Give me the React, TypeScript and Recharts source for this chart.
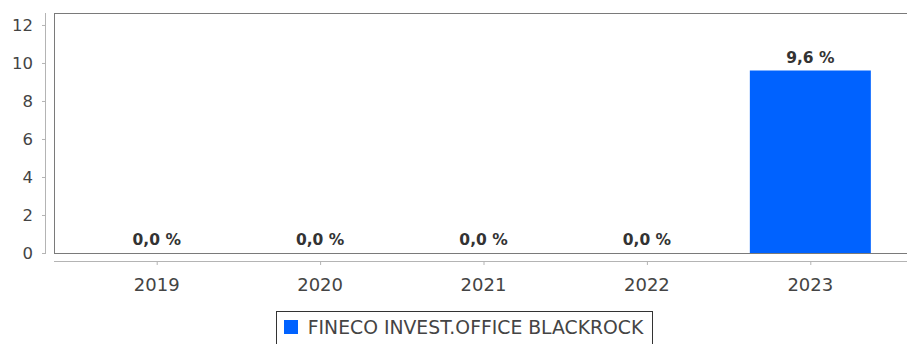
import React from 'react';
import { BarChart, Bar, XAxis, YAxis, LabelList, Legend, Rectangle, usePlotArea } from 'recharts';

const years = ['2019', '2020', '2021', '2022', '2023'];
const values = [0, 0, 0, 0, 9.6];
const yTicks = [0, 2, 4, 6, 8, 10, 12];
const seriesName = 'FINECO INVEST.OFFICE BLACKROCK';

const data = years.map((year, i) => ({ year, value: values[i] }));

const FONT = '"DejaVu Sans", sans-serif';
const BLUE = '#0062ff';

// plot box plus the two axis lines, which sit 8px away from the box
const AxisFrame = () => {
    const area = usePlotArea();
    if (!area) return null;
    const { x, y, width, height } = area;
    return (
        <g>
            <rect x={x + 0.5} y={y + 0.5} width={width} height={height} fill="none" stroke="#7a7a7a" />
            <line x1={x - 8.5} y1={y} x2={x - 8.5} y2={y + height + 1} stroke="#b4b4b4" />
            <line x1={x} y1={y + height + 8.5} x2={x + width} y2={y + height + 8.5} stroke="#b4b4b4" />
        </g>
    );
};

const YTick = (props: any) => {
    const { x, y, payload } = props;
    return (
        <g>
            <line x1={x - 12} y1={y + 0.5} x2={x - 8} y2={y + 0.5} stroke="#b4b4b4" />
            <text x={x - 21} y={y} dy="0.36em" textAnchor="end" fontSize={16.5} fill="#444" fontFamily={FONT}>
                {payload.value}
            </text>
        </g>
    );
};

const XTick = (props: any) => {
    const { x, y, payload } = props;
    return (
        <g>
            <line x1={x + 0.5} y1={y + 8} x2={x + 0.5} y2={y + 12} stroke="#b4b4b4" />
            <text x={x} y={y + 32} dy="0.36em" textAnchor="middle" fontSize={18} fill="#444" fontFamily={FONT}>
                {payload.value}
            </text>
        </g>
    );
};

// zero bars get a tiny min size so their labels still show, but draw nothing
const BarShape = (props: any) => {
    if (!props.value) return null;
    return <Rectangle {...props} />;
};

const LegendBox = () => (
    <div style={{ textAlign: 'center' }}>
        <div
            style={{
                display: 'inline-flex',
                alignItems: 'center',
                height: 36,
                boxSizing: 'border-box',
                border: '1px solid #333',
                padding: '0 9px 4px 7px',
                fontFamily: FONT,
                fontSize: 18.8,
                color: '#444',
            }}
        >
            <span style={{ display: 'inline-block', width: 14, height: 14, background: BLUE, marginRight: 10 }} />
            {seriesName}
        </div>
    </div>
);

const App: React.FC = () => {
    return (
        <div style={{ position: 'absolute', top: 0, left: 0, width: 907, height: 344, overflow: 'hidden', background: '#fff' }}>
            <BarChart
                width={927}
                height={344}
                data={data}
                margin={{ top: 13, right: 14, bottom: 0, left: 0 }}
                barCategoryGap="13%"
            >
                <XAxis
                    dataKey="year"
                    height={55}
                    padding={{ left: 21, right: 21 }}
                    axisLine={false}
                    tickLine={false}
                    tickSize={0}
                    tickMargin={0}
                    tick={<XTick />}
                    interval={0}
                />
                <YAxis
                    width={54}
                    domain={[0, 12.63]}
                    ticks={yTicks}
                    axisLine={false}
                    tickLine={false}
                    tickSize={0}
                    tickMargin={0}
                    tick={<YTick />}
                    interval={0}
                />
                <Legend verticalAlign="bottom" content={<LegendBox />} wrapperStyle={{ bottom: -3, left: 8 }} />
                <Bar
                    dataKey="value"
                    name={seriesName}
                    fill={BLUE}
                    minPointSize={0.01}
                    shape={<BarShape />}
                    isAnimationActive={false}
                >
                    <LabelList
                        dataKey="value"
                        position="top"
                        offset={8}
                        formatter={(v: any) => `${Number(v).toFixed(1).replace('.', ',')} %`}
                        style={{ fontFamily: FONT, fontSize: 15.5, fontWeight: 'bold', fill: '#333' }}
                    />
                </Bar>
                <AxisFrame />
            </BarChart>
        </div>
    );
};

export default App;
